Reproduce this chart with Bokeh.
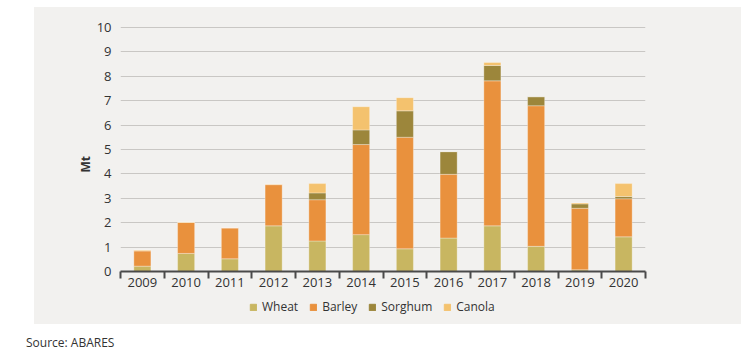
import math
from bokeh.plotting import figure
from bokeh.models import (ColumnDataSource, Range1d, FixedTicker, Legend, LegendItem,
                          Title, Div)
from bokeh.layouts import column
from bokeh.embed import file_html
from bokeh.resources import INLINE

years = ["2009", "2010", "2011", "2012", "2013", "2014", "2015", "2016", "2017", "2018", "2019", "2020"]
wheat = [0.22, 0.74, 0.52, 1.87, 1.25, 1.51, 0.93, 1.37, 1.87, 1.03, 0.07, 1.42]
barley = [0.63, 1.27, 1.27, 1.69, 1.69, 3.69, 4.57, 2.61, 5.94, 5.76, 2.52, 1.56]
sorghum = [0.00, 0.00, 0.00, 0.00, 0.28, 0.60, 1.08, 0.93, 0.63, 0.37, 0.18, 0.09]
canola = [0.03, 0.02, 0.00, 0.02, 0.38, 0.95, 0.54, 0.00, 0.12, 0.00, 0.04, 0.53]
series = ["Wheat", "Barley", "Sorghum", "Canola"]
colors = ["#C8B661", "#E9913D", "#9C863B", "#F4C26E"]
y_ticks = list(range(0, 11))
source_text = "Source: ABARES"

FONT = "Open Sans"
TEXT = "#333333"
PANEL = "#F2F1EF"

n = len(years)
xpos = [i + 0.5 for i in range(n)]
src = ColumnDataSource(dict(x=xpos, Wheat=wheat, Barley=barley, Sorghum=sorghum, Canola=canola))

W = 707
LEFT = 86
RIGHT = 96

# ---- main chart ----
p = figure(width=W, height=292, output_backend="svg", toolbar_location=None,
           x_range=Range1d(0, n), y_range=Range1d(0, 10.2),
           min_border_left=LEFT, min_border_right=RIGHT, min_border_top=15, min_border_bottom=28)
p.background_fill_color = PANEL
p.border_fill_color = PANEL
p.outline_line_color = None

renderers = p.vbar_stack(series, x="x", width=0.39, source=src, color=colors,
                         line_color="white", line_alpha=0.3, line_width=1)

p.xgrid.visible = False
p.ygrid.ticker = FixedTicker(ticks=y_ticks)
p.ygrid.grid_line_color = "#C9C7C4"
p.ygrid.grid_line_width = 1.2

p.yaxis.ticker = FixedTicker(ticks=y_ticks)
p.yaxis.axis_line_color = None
p.yaxis.major_tick_line_color = None
p.yaxis.minor_tick_line_color = None
p.yaxis.major_tick_out = 0
p.yaxis.major_label_standoff = 9
p.yaxis.major_label_text_font = FONT
p.yaxis.major_label_text_font_size = "13px"
p.yaxis.major_label_text_color = TEXT

p.xaxis.ticker = FixedTicker(ticks=xpos, minor_ticks=list(range(0, n + 1)))
p.xaxis.major_label_overrides = {x: y for x, y in zip(xpos, years)}
p.xaxis.major_tick_line_color = None
p.xaxis.major_tick_out = 0
p.xaxis.major_tick_in = 0
p.xaxis.minor_tick_out = 7
p.xaxis.minor_tick_in = 0
p.xaxis.minor_tick_line_color = "#4A4A4A"
p.xaxis.minor_tick_line_width = 2
p.xaxis.axis_line_color = "#4A4A4A"
p.xaxis.axis_line_width = 2
p.xaxis.major_label_standoff = -1
p.xaxis.major_label_text_font = FONT
p.xaxis.major_label_text_font_size = "13px"
p.xaxis.major_label_text_color = TEXT

p.add_layout(Title(text="Mt", align="left", offset=99, standoff=0,
                   text_font=FONT, text_font_size="12px", text_font_style="bold",
                   text_color=TEXT), "left")

# ---- legend strip (same panel colour) ----
lf = figure(width=W, height=25, output_backend="svg", toolbar_location=None,
            x_range=Range1d(0, 1), y_range=Range1d(0, 1),
            min_border_left=LEFT, min_border_right=RIGHT, min_border_top=0, min_border_bottom=0)
lf.background_fill_color = PANEL
lf.border_fill_color = PANEL
lf.outline_line_color = None
lf.axis.visible = False
lf.grid.visible = False
items = []
for s, c in zip(series, colors):
    r = lf.vbar(x=[-10], top=[0], width=0.1, color=c)
    items.append(LegendItem(label=s, renderers=[r]))
legend = Legend(items=items, orientation="horizontal", location=(129, 9),
                border_line_color=None, background_fill_alpha=0,
                padding=0, margin=0, spacing=11, label_standoff=5,
                glyph_width=8, glyph_height=8, label_height=14,
                label_text_font=FONT, label_text_font_size="12px", label_text_color=TEXT)
lf.add_layout(legend, "center")

panel = column(p, lf, spacing=0, margin=(7, 0, 0, 34),
               styles={"background-color": PANEL})

src_div = Div(text=source_text, margin=(0, 0, 0, 26),
              styles={"font-family": FONT, "font-size": "12px", "color": TEXT,
                      "padding-top": "10px"})

layout = column(panel, src_div, spacing=0)

open("out.html", "w").write(file_html(layout, INLINE))
